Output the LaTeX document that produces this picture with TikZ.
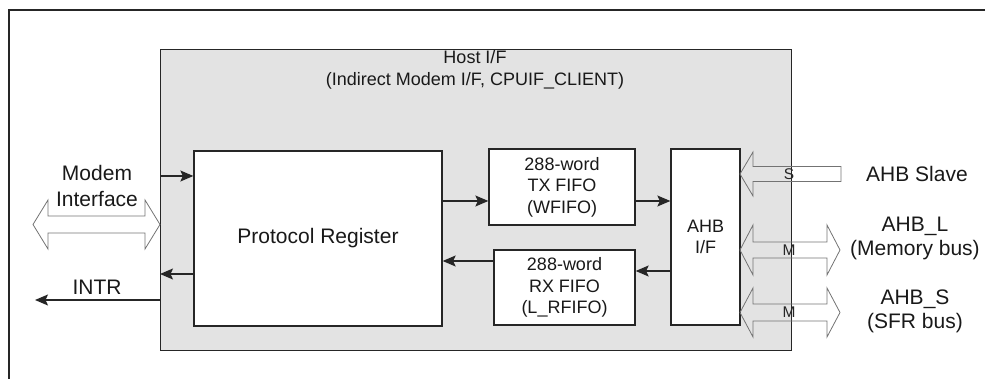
\documentclass[tikz,border=0pt]{standalone}
\usepackage{fontspec}
\setmainfont{Liberation Sans}
\usetikzlibrary{arrows.meta}
\begin{document}
\begin{tikzpicture}[x=1pt,y=-1pt,
  frame/.style={draw=black!85, line width=1.3pt},
  block/.style={draw=black!85, line width=1.3pt, fill=white, inner sep=0pt,
    align=center, text=black!90, font=\fontsize{18}{21.5}\selectfont},
  sig/.style={draw=black!85, line width=1.3pt,
    -{Stealth[length=13pt,width=11pt,inset=2.5pt]}},
  bus/.style={draw=black!55, line width=0.8pt},
  lbl/.style={align=center, text=black!90, font=\fontsize{21}{24}\selectfont},
  tag/.style={text=black!85, inner sep=0pt, font=\fontsize{15.5}{15.5}\selectfont}
]
\useasboundingbox (0,0) rectangle (986,379);

% outer page frame
\draw[frame] (985,10) -- (9,10) -- (9,379);

% host interface block
\node[frame, fill=black!11, minimum width=631pt, minimum height=301pt,
  anchor=north west, inner sep=0pt] (host) at (160,49) {};
\node[anchor=base, text=black!90, font=\fontsize{18}{21}\selectfont] (title1)
  at (475,63.5) {Host I/F};
\node[anchor=base, text=black!90, font=\fontsize{18}{21}\selectfont] (title2)
  at (475,86) {(Indirect Modem I/F, CPUIF\_CLIENT)};

% inner blocks
\node[block, font=\fontsize{21}{24}\selectfont, minimum width=248pt, minimum height=175pt]
  (proto) at (318,238.5) {Protocol Register};
\node[block, minimum width=146pt, minimum height=76pt]
  (tx) at (562,187) {288-word\\TX FIFO\\(WFIFO)};
\node[block, minimum width=141pt, minimum height=75pt]
  (rx) at (564.5,287.5) {288-word\\RX FIFO\\(L\_RFIFO)};
\node[block, minimum width=69pt, minimum height=176pt]
  (ahb) at (705.5,237) {AHB\\I/F};

% signal connectors
\draw[sig] (host.west |- 0,176) -- (proto.west |- 0,176);
\draw[sig] (proto.west |- 0,274) -- (host.west |- 0,274);
\coordinate (intr) at (35,300);
\draw[sig] (host.west |- 0,300) -- (intr);
\draw[sig] (proto.east |- 0,201) -- (tx.west |- 0,201);
\draw[sig] (rx.west |- 0,261) -- (proto.east |- 0,261);
\draw[sig] (tx.east |- 0,201) -- (ahb.west |- 0,201);
\draw[sig] (ahb.west |- 0,271) -- (rx.east |- 0,271);

% modem bus (double outline arrow)
\draw[bus] (33,224.5) -- (48,200) -- (48,216) -- (145,216) -- (145,200)
  -- (160,224.5) -- (145,249) -- (145,233) -- (48,233) -- (48,249) -- cycle;

% AHB slave bus (single outline arrow)
\draw[bus] (740,174) -- (753,152) -- (753,166.5) -- (841,166.5) -- (841,181.5)
  -- (753,181.5) -- (753,196) -- cycle;
\node[tag] (slvS) at (789,174) {S};

% AHB_L bus
\draw[bus] (740,250) -- (753,225) -- (753,242) -- (827,242) -- (827,225)
  -- (840,250) -- (827,275) -- (827,258) -- (753,258) -- (753,275) -- cycle;
\node[tag] (memM) at (789,250) {M};

% AHB_S bus
\draw[bus] (740,312.5) -- (753,288) -- (753,304) -- (827,304) -- (827,288)
  -- (840,312.5) -- (827,337) -- (827,321) -- (753,321) -- (753,337) -- cycle;
\node[tag] (sfrM) at (789,312.5) {M};

% outside labels
\node[lbl, font=\fontsize{21}{26}\selectfont] (modem) at (97,186) {Modem\\Interface};
\node[lbl] (intrlbl) at (97,287) {INTR};
\node[lbl] (slave) at (917,174) {AHB Slave};
\node[lbl] (ahbl) at (915,238) {AHB\_L\\(Memory bus)};
\node[lbl] (ahbs) at (915,311) {AHB\_S\\(SFR bus)};
\end{tikzpicture}
\end{document}
